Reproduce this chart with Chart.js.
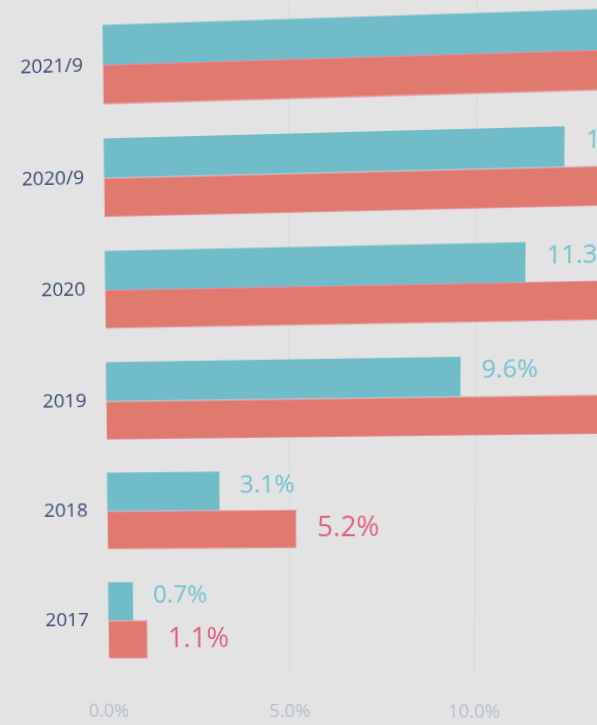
<!DOCTYPE html>
<html>
<head>
<meta charset="utf-8">
<script src="https://cdn.jsdelivr.net/npm/chart.js@4/dist/chart.umd.min.js"></script>
<style>
  html, body { margin: 0; padding: 0; background: #e2e3e2; overflow: hidden; width: 597px; height: 725px; }
  #myChart { position: absolute; left: 0; top: 0; transform-origin: 0 0; }
</style>
</head>
<body>
<canvas id="myChart" width="870" height="725"></canvas>
<script>
// categories top -> bottom
const categories = ['2021/9', '2020/9', '2020', '2019', '2018', '2017'];
// teal series (values past the photo edge are estimates)
const tealValues = [14.6, 12.3, 11.3, 9.6, 3.1, 0.7];
// red series
const redValues = [16.8, 15.1, 14.2, 13.8, 5.2, 1.1];
const tickValues = [0, 5, 10, 15, 20];

const TEAL = 'rgb(112, 188, 200)';
const RED = 'rgb(224, 122, 110)';

// value labels drawn next to each bar end
const valueLabels = {
  id: 'valueLabels',
  afterDatasetsDraw(chart) {
    const ctx = chart.ctx;
    ctx.save();
    ctx.textAlign = 'left';
    ctx.textBaseline = 'middle';
    chart.data.datasets.forEach((ds, i) => {
      const meta = chart.getDatasetMeta(i);
      meta.data.forEach((bar, j) => {
        const v = ds.data[j];
        if (i === 0) {
          ctx.font = '24px "Open Sans"';
          ctx.fillStyle = '#72c1d2';
          ctx.fillText(v.toFixed(1) + '%', bar.x + 20, bar.y - 5);
        } else {
          ctx.font = '27px "Open Sans"';
          ctx.fillStyle = '#e2627e';
          ctx.fillText(v.toFixed(1) + '%', bar.x + 20, bar.y);
        }
      });
    });
    ctx.restore();
  }
};

// the reference is a photo taken at a slight angle: warp the canvas the same way
function solveHomography(src, dst) {
  const A = [], b = [];
  for (let i = 0; i < 4; i++) {
    const [x, y] = src[i], [u, v] = dst[i];
    A.push([x, y, 1, 0, 0, 0, -x * u, -y * u]); b.push(u);
    A.push([0, 0, 0, x, y, 1, -x * v, -y * v]); b.push(v);
  }
  const n = 8;
  for (let c = 0; c < n; c++) {
    let p = c;
    for (let r = c + 1; r < n; r++) if (Math.abs(A[r][c]) > Math.abs(A[p][c])) p = r;
    [A[c], A[p]] = [A[p], A[c]]; [b[c], b[p]] = [b[p], b[c]];
    for (let r = 0; r < n; r++) {
      if (r === c) continue;
      const f = A[r][c] / A[c][c];
      for (let k = c; k < n; k++) A[r][k] -= f * A[c][k];
      b[r] -= f * b[c];
    }
  }
  return b.map((val, i) => val / A[i][i]);
}

const photoWarp = {
  id: 'photoWarp',
  afterRender(chart) {
    if (chart._warped) return;
    chart._warped = true;
    const xs = chart.scales.x;
    const top = chart.getDatasetMeta(0).data[0];
    const bot = chart.getDatasetMeta(1).data[categories.length - 1];
    const yTop = top.y - top.height / 2;
    const yBot = bot.y + bot.height / 2;
    const x0 = xs.getPixelForValue(0), x12 = xs.getPixelForValue(12);
    const src = [[x0, yTop], [x12, yTop], [x0, yBot], [x12, yBot]];
    const dst = [[102, 25], [554, 10.5], [108.3, 658.3], [549, 658]];
    const h = solveHomography(src, dst);
    chart.canvas.style.transform = 'matrix3d(' + [
      h[0], h[3], 0, h[6],
      h[1], h[4], 0, h[7],
      0, 0, 1, 0,
      h[2], h[5], 0, 1
    ].join(',') + ')';
  }
};

const data = {
  labels: categories,
  datasets: [{
    label: 'teal',
    data: tealValues,
    backgroundColor: TEAL,
    borderWidth: 0,
    categoryPercentage: 0.7,
    barPercentage: 1.0
  }, {
    label: 'red',
    data: redValues,
    backgroundColor: RED,
    borderColor: 'rgba(232, 100, 140, 0.7)',
    borderWidth: 1,
    categoryPercentage: 0.7,
    barPercentage: 1.0
  }]
};

const config = {
  type: 'bar',
  data: data,
  options: {
    indexAxis: 'y',
    responsive: false,
    animation: false,
    devicePixelRatio: 1,
    layout: { padding: { top: 8, right: 18, left: 0, bottom: 0 } },
    plugins: { legend: { display: false }, tooltip: { enabled: false } },
    scales: {
      x: {
        min: 0,
        max: 20,
        afterBuildTicks(scale) { scale.ticks = tickValues.map(v => ({ value: v })); },
        afterFit(scale) { scale.height = 50; },
        ticks: {
          padding: 26,
          color: '#b6bece',
          font: { family: 'Open Sans', size: 18 },
          callback: v => v.toFixed(1) + '%'
        },
        grid: {
          color: ctx => ctx.tick && ctx.tick.value === 0 ? 'rgba(0,0,0,0)' : 'rgba(200, 212, 224, 0.45)',
          drawTicks: false
        },
        border: { display: false }
      },
      y: {
        afterFit(scale) { scale.width = 102; },
        ticks: {
          padding: 19,
          color: '#3c4a78',
          font: { family: 'Open Sans', size: 19 }
        },
        grid: { display: false, drawTicks: false },
        border: { display: false }
      }
    }
  },
  plugins: [valueLabels, photoWarp]
};

const myChart = new Chart(document.getElementById('myChart'), config);
</script>
</body>
</html>
